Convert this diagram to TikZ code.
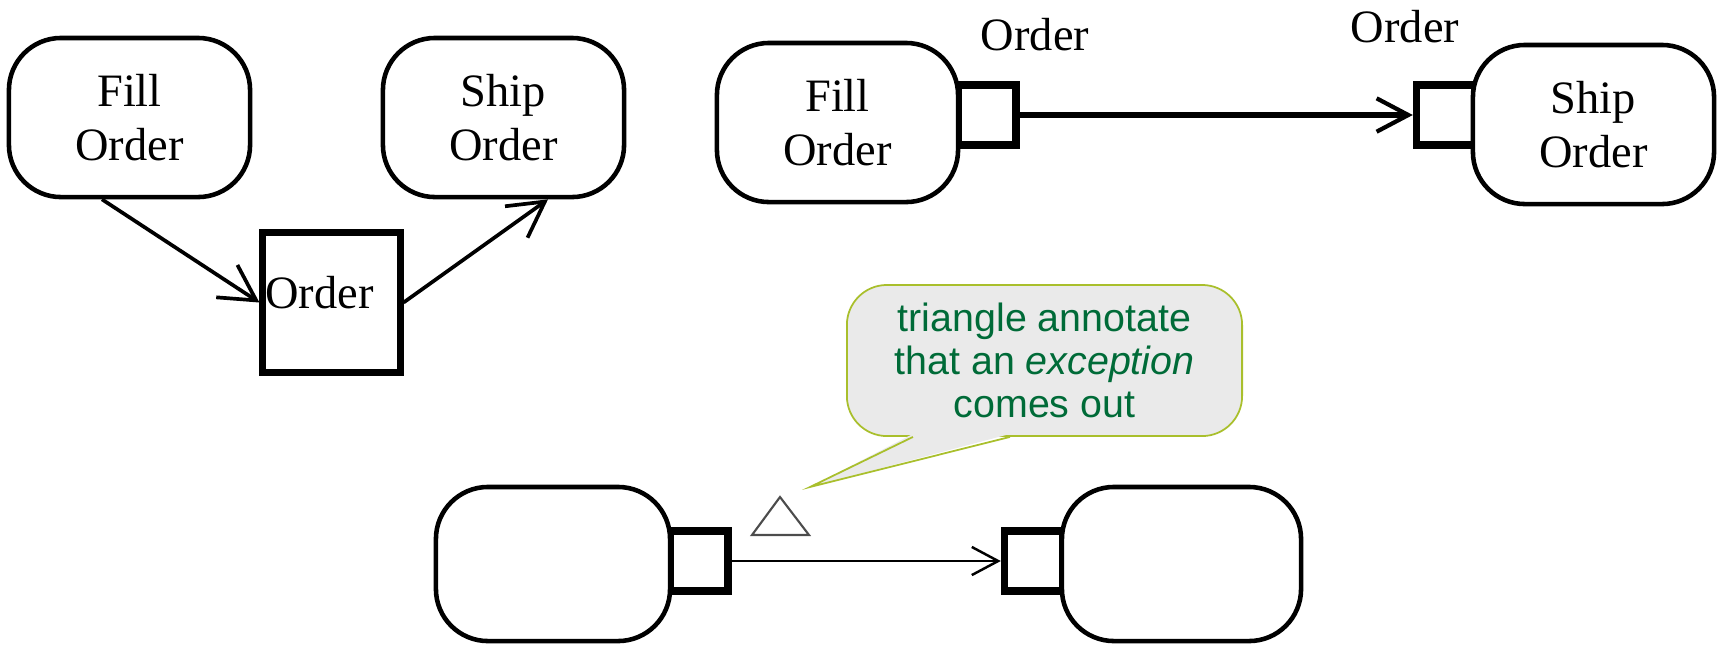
\documentclass[tikz,border=0pt]{standalone}
\usepackage{fontspec}
\setmainfont{Liberation Serif}
\newfontfamily\notefont{Liberation Sans}
\usetikzlibrary{arrows.meta}

\definecolor{notefill}{HTML}{EAEAEA}
\definecolor{noteline}{HTML}{A9BF2C}
\definecolor{notetext}{HTML}{006B38}

\tikzset{
  actbox/.style={draw, fill=white, line width=1.3pt, rounded corners=0.52cm,
    minimum width=2.41cm, minimum height=1.59cm, align=center,
    font=\fontsize{13.2}{15.5}\selectfont},
  objbox/.style={draw, line width=2pt, minimum width=1.37cm, minimum height=1.39cm,
    inner sep=0pt, text width=1.32cm, text depth=0.2cm, align=left,
    font=\fontsize{13.2}{15.5}\selectfont},
  pinbox/.style={draw, fill=white, line width=2.1pt, minimum width=0.58cm,
    minimum height=0.6cm, inner sep=0pt},
  lbl/.style={font=\fontsize{13.2}{15.5}\selectfont, inner sep=1pt},
  flow/.style={line width=1.05pt, -{Straight Barb[length=10pt,width=11pt]}},
  thickflow/.style={line width=1.7pt, -{Straight Barb[length=9pt,width=9.5pt,line width=1.2pt]}},
  thinflow/.style={line width=0.5pt, -{Straight Barb[length=7.5pt,width=8pt,line width=0.7pt]}},
  notebox/.style={draw=noteline, fill=notefill, line width=0.5pt, rounded corners=0.4cm,
    minimum width=3.95cm, minimum height=1.51cm, inner sep=2pt, align=center,
    text=notetext, font=\notefont\fontsize{11.2}{12.3}\selectfont}
}

\begin{document}
\begin{tikzpicture}[x=0.01cm,y=-0.01cm]
\useasboundingbox (0,0) rectangle (1717,644);

% object node between two actions
\node[actbox] (fill) at (129.5,117.5) {Fill\\Order};
\node[actbox] (ship) at (503.5,117.5) {Ship\\Order};
\node[objbox] (order) at (331.5,302.5) {Order};
\draw[flow] ([xshift=-0.275cm]fill.south) -- (order.west);
\draw[flow] (order.east) -- ([xshift=0.445cm]ship.south);

% same flow with pins
\node[pinbox] (out2) at (987,115) {};
\node[pinbox] (in2) at (1445.5,115) {};
\node[actbox] (fill2) at (837.5,122.5) {Fill\\Order};
\node[actbox] (ship2) at (1593.5,124.5) {Ship\\Order};
\node[lbl] (outlbl) at (1035,35) {Order};
\node[lbl] (inlbl) at (1405,27) {Order};
\draw[thickflow] (out2.east) -- (in2.west);

% exception pins
\node[pinbox] (srcpin) at (699,561) {};
\node[pinbox] (dstpin) at (1033.5,561) {};
\node[actbox, minimum width=2.34cm, minimum height=1.54cm] (src) at (553,564) {};
\node[actbox, minimum width=2.39cm, minimum height=1.54cm] (dst) at (1181.5,564) {};
\draw[thinflow] (srcpin.east) -- (dstpin.west);
\draw[black!70, line width=0.6pt] (752,535) -- (780,497) -- (809,535) -- cycle;

% callout
\node[notebox] (note) at (1044.5,360.5) {triangle annotate\\that an \textit{exception}\\comes out};
\coordinate (tip) at (810,487);
\fill[notefill] ([xshift=-1.315cm,yshift=0.03cm]note.south) -- (tip)
  -- ([xshift=-0.345cm,yshift=0.03cm]note.south) -- cycle;
\draw[noteline, line width=0.5pt] ([xshift=-1.315cm]note.south) -- (tip)
  -- ([xshift=-0.345cm]note.south);
\end{tikzpicture}
\end{document}
